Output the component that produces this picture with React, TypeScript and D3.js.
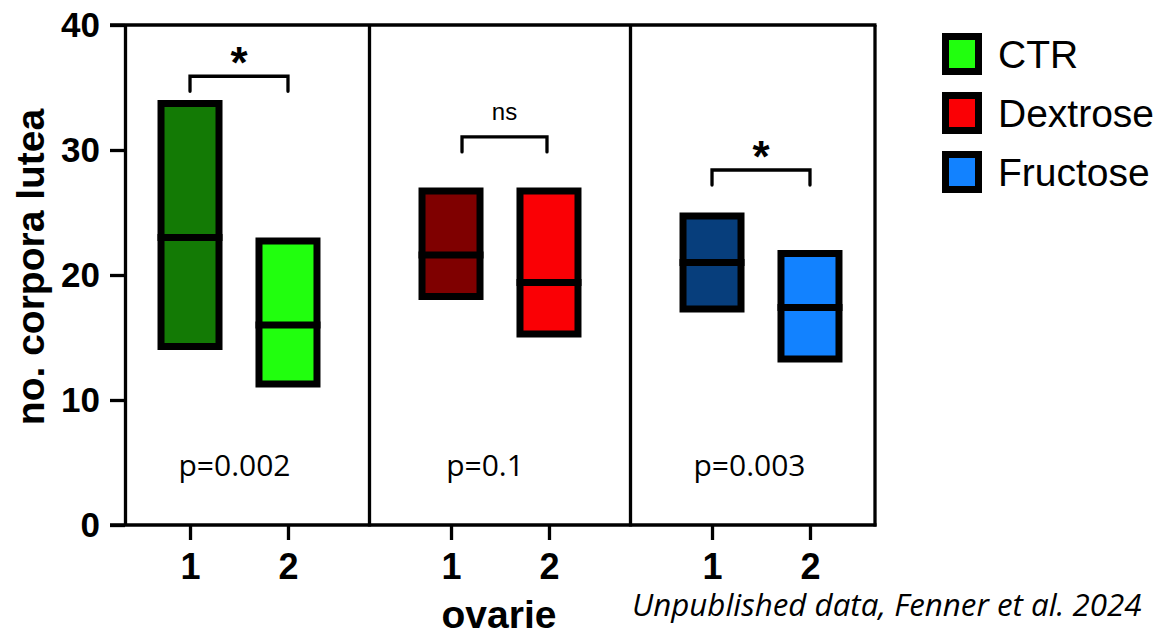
import React, { useEffect, useRef } from "react";
import * as d3 from "d3";

// values
const groups = ["CTR", "Dextrose", "Fructose"];
const ovaries = ["1", "2"];
const boxMin = [[14, 11], [18, 15], [17, 13]];
const boxMax = [[34, 23], [27, 27], [25, 22]];
const boxMid = [[23, 16], [21.6, 19.4], [21, 17.4]];
const boxColors = [["#137A05", "#21FF0E"], ["#7F0000", "#FA0005"], ["#073E7C", "#1282FF"]];
const legendColors = ["#21FF0E", "#FA0005", "#1282FF"];
const pLabels = ["p=0.002", "p=0.1", "p=0.003"];
const sigLabels = ["*", "ns", "*"];
const bracketValues = [35.9, 31.05, 28.4];
const yTicks = [0, 10, 20, 30, 40];

const W = 1163;
const H = 638;
const FONT = "'Liberation Sans', Arial, Helvetica, sans-serif";
const FONT2 = "'Open Sans', 'Noto Sans', sans-serif";

function Chart() {
  const ref = useRef<SVGSVGElement>(null);

  useEffect(() => {
    const svg = d3.select(ref.current);
    svg.selectAll("*").remove();

    const left = 125, right = 875, top = 25, bottom = 525;
    const y = d3.scaleLinear().domain([0, 40]).range([bottom, top]);
    const xGroup = d3.scaleBand().domain(groups).range([108.5, 891.5]);
    const xInner = d3.scalePoint().domain(ovaries).range([0, xGroup.bandwidth()]).padding(0.832);
    const boxW = 65;
    const sw = 7;

    // y axis
    const yAxis = d3.axisLeft(y).tickValues(yTicks).tickSize(15).tickSizeOuter(0).tickPadding(10);
    const gy = svg.append("g").attr("transform", `translate(${left},0)`).call(yAxis);
    gy.selectAll("path, line").attr("stroke", "#000").attr("stroke-width", 3.3);
    gy.selectAll("text").attr("font-family", FONT).attr("font-weight", "bold")
      .attr("font-size", 35).attr("fill", "#000");

    // frame lines
    const frame = svg.append("g").attr("stroke", "#000").attr("stroke-width", 3.3).attr("fill", "none");
    frame.append("line").attr("x1", left - 15).attr("x2", right + 1.5).attr("y1", top).attr("y2", top);
    frame.append("line").attr("x1", left - 15).attr("x2", right + 1.5).attr("y1", bottom).attr("y2", bottom);
    frame.append("line").attr("x1", right).attr("x2", right).attr("y1", top).attr("y2", bottom + 1.5);
    groups.slice(1).forEach(g => {
      const xd = xGroup(g)!;
      frame.append("line").attr("x1", xd).attr("x2", xd).attr("y1", top).attr("y2", bottom + 1.5);
    });

    // x axes, one per panel
    groups.forEach(g => {
      const gx = svg.append("g").attr("transform", `translate(${xGroup(g)},${bottom})`)
        .call(d3.axisBottom(xInner).tickSize(15).tickSizeOuter(0).tickPadding(13));
      gx.select(".domain").remove();
      gx.selectAll("line").attr("stroke", "#000").attr("stroke-width", 3.3);
      gx.selectAll("text").attr("font-family", FONT).attr("font-weight", "bold")
        .attr("font-size", 36).attr("fill", "#000");
    });

    // boxes
    const pOffset = [-4.5, -15, -11.5];
    groups.forEach((g, gi) => {
      const gx = xGroup(g)!;
      ovaries.forEach((o, oi) => {
        const cx = gx + xInner(o)!;
        const y0 = y(boxMax[gi][oi]);
        const y1 = y(boxMin[gi][oi]);
        svg.append("rect")
          .attr("x", cx - boxW / 2 + sw / 2).attr("width", boxW - sw)
          .attr("y", y0 + sw / 2).attr("height", y1 - y0 - sw)
          .attr("fill", boxColors[gi][oi]).attr("stroke", "#000").attr("stroke-width", sw);
        svg.append("line")
          .attr("x1", cx - boxW / 2).attr("x2", cx + boxW / 2)
          .attr("y1", y(boxMid[gi][oi])).attr("y2", y(boxMid[gi][oi]))
          .attr("stroke", "#000").attr("stroke-width", sw);
      });

      // significance bracket
      const xa = gx + xInner("1")! + (gi === 1 ? 11 : 0);
      const xb = gx + xInner("2")! - (gi === 1 ? 2 : 0);
      const yb = y(bracketValues[gi]);
      svg.append("path")
        .attr("d", `M${xa},${yb + 15}V${yb}H${xb}V${yb + 15}`)
        .attr("fill", "none").attr("stroke", "#000").attr("stroke-width", 3.3)
        .attr("stroke-linecap", "round");
      const isNs = sigLabels[gi] === "ns";
      svg.append("text")
        .attr("x", (xa + xb) / 2).attr("y", isNs ? yb - 17 : yb + 2)
        .attr("text-anchor", "middle")
        .attr("font-family", FONT).attr("font-weight", isNs ? "normal" : "bold")
        .attr("font-size", isNs ? 24 : 44)
        .text(sigLabels[gi]);

      // p value
      svg.append("text")
        .attr("x", gx + xGroup.bandwidth() / 2 + pOffset[gi]).attr("y", 476)
        .attr("text-anchor", "middle").attr("font-family", FONT2)
        .attr("font-size", 30).text(pLabels[gi]);
    });

    // axis titles
    svg.append("text")
      .attr("transform", "rotate(-90)")
      .attr("x", -267).attr("y", 44)
      .attr("text-anchor", "middle").attr("font-family", FONT).attr("font-weight", "bold")
      .attr("font-size", 39).text("no. corpora lutea");
    svg.append("text")
      .attr("x", 499).attr("y", 628)
      .attr("text-anchor", "middle").attr("font-family", FONT).attr("font-weight", "bold")
      .attr("font-size", 39).text("ovarie");

    // legend
    groups.forEach((g, i) => {
      const cy = 54 + i * 59;
      svg.append("rect")
        .attr("x", 942 + sw / 2).attr("y", cy - 21 + sw / 2)
        .attr("width", 40 - sw).attr("height", 42 - sw)
        .attr("fill", legendColors[i]).attr("stroke", "#000").attr("stroke-width", sw);
      svg.append("text")
        .attr("x", 998).attr("y", cy + 14)
        .attr("font-family", FONT).attr("font-size", 39).text(g);
    });

    // source note
    svg.append("text")
      .attr("x", 632).attr("y", 616)
      .attr("font-family", FONT2).attr("font-style", "italic")
      .attr("font-size", 31.3).text("Unpublished data, Fenner et al. 2024");
  }, []);

  return (
    <svg ref={ref} width={W} height={H}
      style={{ position: "absolute", left: 0, top: 0, background: "#fff" }} />
  );
}

export default function App() {
  return <Chart />;
}
